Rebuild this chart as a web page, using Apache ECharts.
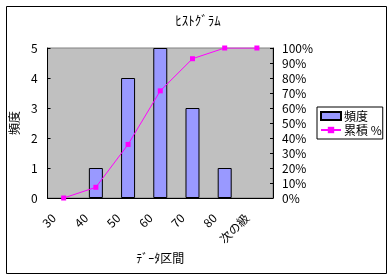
<!DOCTYPE html>
<html><head><meta charset="utf-8">
<script src="https://cdn.jsdelivr.net/npm/echarts@6/dist/echarts.min.js"></script>
<style>html,body{margin:0;padding:0;background:#fff}#c{width:390px;height:276px}</style>
</head><body><div id="c"></div>
<script>
const categories = ['30', '40', '50', '60', '70', '80', '次の級'];
const frequency = [0, 1, 4, 5, 3, 1, 0];
const cumulativePct = [0, 7.14, 35.71, 71.43, 92.86, 100, 100];
const leftTicks = { min: 0, max: 5, interval: 1 };
const rightTicks = { min: 0, max: 100, interval: 10 };
const FONT = "'Noto Sans CJK JP', 'DejaVu Sans', sans-serif";

const barData = frequency.map(v => v === 0 ? { value: v, itemStyle: { borderWidth: 0, opacity: 0 } } : v);

const chart = echarts.init(document.getElementById('c'), null, { renderer: 'canvas' });
chart.setOption({
  animation: false,
  backgroundColor: '#fff',
  graphic: [{
    type: 'rect', left: 4, top: 4, shape: { width: 380, height: 267 },
    style: { fill: 'none', stroke: '#000', lineWidth: 1 }, silent: true
  }],
  title: {
    text: 'ﾋｽﾄｸﾞﾗﾑ', left: 193, top: 9, textAlign: 'center',
    textStyle: { fontFamily: FONT, fontSize: 13, fontWeight: 'normal', color: '#000' }
  },
  legend: {
    orient: 'vertical', left: 317, top: 107,
    borderColor: '#000', borderWidth: 1, padding: [3, 1, 3, 3],
    itemGap: 2, itemWidth: 20, itemHeight: 8,
    textStyle: { fontFamily: FONT, fontSize: 12, color: '#000', padding: [0, 0, 0, -2] },
    data: [{ name: '頻度', icon: 'rect' }, { name: '累積 %' }]
  },
  grid: {
    left: 47, right: 117, top: 48, bottom: 78, show: true,
    backgroundColor: '#c0c0c0', borderColor: '#808080', borderWidth: 1
  },
  xAxis: {
    type: 'category', data: categories, boundaryGap: true,
    name: 'ﾃﾞｰﾀ区間', nameLocation: 'middle', nameGap: 52,
    nameTextStyle: { fontFamily: FONT, fontSize: 12, color: '#000' },
    axisLine: { lineStyle: { color: '#000', width: 1 } },
    axisTick: { inside: true, length: 3, lineStyle: { color: '#000' } },
    axisLabel: {
      rotate: 45, margin: 8, padding: [0, 14, 0, 0], interval: 0,
      fontFamily: FONT, fontSize: 12, color: '#000'
    },
    splitLine: { show: false }
  },
  yAxis: [{
    type: 'value', min: leftTicks.min, max: leftTicks.max, interval: leftTicks.interval,
    name: '頻度', nameLocation: 'middle', nameGap: 27, nameRotate: 90,
    nameTextStyle: { fontFamily: FONT, fontSize: 12, color: '#000' },
    axisLine: { show: true, lineStyle: { color: '#000', width: 1 } },
    axisTick: { show: true, inside: true, length: 3, lineStyle: { color: '#000' } },
    axisLabel: { margin: 10, fontFamily: FONT, fontSize: 12, color: '#000' },
    splitLine: { show: false }
  }, {
    type: 'value', position: 'right', min: rightTicks.min, max: rightTicks.max, interval: rightTicks.interval,
    axisLine: { show: true, lineStyle: { color: '#000', width: 1 } },
    axisTick: { show: true, inside: true, length: 3, lineStyle: { color: '#000' } },
    axisLabel: { margin: 9, fontFamily: FONT, fontSize: 12, color: '#000', formatter: '{value}%' },
    splitLine: { show: false }
  }],
  series: [{
    name: '頻度', type: 'bar', data: barData, yAxisIndex: 0, barWidth: 14,
    itemStyle: { color: '#9999ff', borderColor: '#000', borderWidth: 1 }
  }, {
    name: '累積 %', type: 'line', data: cumulativePct, yAxisIndex: 1,
    symbol: 'rect', symbolSize: 5, showAllSymbol: true,
    lineStyle: { color: '#ff00ff', width: 1 },
    itemStyle: { color: '#ff00ff' }
  }]
});
</script></body></html>
